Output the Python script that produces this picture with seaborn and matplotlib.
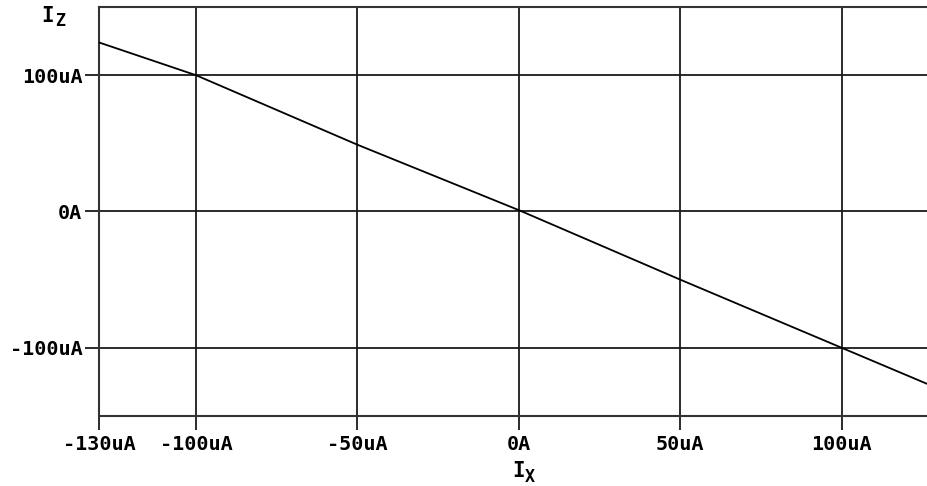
import matplotlib
matplotlib.use("Agg")
import matplotlib.pyplot as plt
import seaborn as sns
import pandas as pd

# Data (uA)
ix_values = [-130, -100, -50, 0, 50, 100, 126.7]
iz_values = [124, 100, 49, 1, -50, -100, -126.7]
x_ticks = [-130, -100, -50, 0, 50, 100]
x_tick_labels = ["-130uA", "-100uA", "-50uA", "0A", "50uA", "100uA"]
y_ticks = [-100, 0, 100]
y_tick_labels = ["-100uA", "0A", "100uA"]

sns.set_style("white")
plt.rcParams['font.family'] = ['DejaVu Sans Mono', 'DejaVu Sans']
plt.rcParams['text.color'] = 'black'

df = pd.DataFrame({"Ix": ix_values, "Iz": iz_values})

fig = plt.figure(figsize=(9.28, 4.86), dpi=100)
ax = fig.add_axes([99/928, 1 - 416/486, 1 - 99/928, (416 - 7)/486])

sns.lineplot(data=df, x="Ix", y="Iz", ax=ax, color="black", linewidth=1.3, zorder=3)

ax.set_xlim(-130, 126.7)
ax.set_ylim(-150, 150)
ax.set_xticks(x_ticks)
ax.set_xticklabels(x_tick_labels)
ax.set_yticks(y_ticks)
ax.set_yticklabels(y_tick_labels)
ax.set_xlabel("")
ax.set_ylabel("")

# grid lines (skip the one at the left edge, which coincides with the spine)
for xv in x_ticks[1:]:
    ax.axvline(xv, color="#1a1a1a", linewidth=1.3, zorder=1)
for yv in y_ticks:
    ax.axhline(yv, color="#1a1a1a", linewidth=1.3, zorder=1)

for side in ["left", "bottom", "top"]:
    ax.spines[side].set_visible(True)
    ax.spines[side].set_color("#333333")
    ax.spines[side].set_linewidth(1.5)
ax.spines["right"].set_visible(False)

ax.tick_params(axis="both", which="major", direction="out", length=10, width=1.3,
               color="#1a1a1a", labelsize=14.5, labelcolor="black",
               bottom=True, left=True, top=False, right=False)
ax.tick_params(axis="y", pad=2)
ax.tick_params(axis="x", pad=4)
for lab in ax.get_xticklabels() + ax.get_yticklabels():
    lab.set_fontweight("bold")

# axis titles: I with subscript
fig.text(512/928, 1 - 471/486, "I", fontsize=15, fontweight="bold", ha="left", va="center")
fig.text(525/928, 1 - 477/486, "X", fontsize=12, fontweight="bold", ha="left", va="center")
fig.text(41/928, 1 - 16/486, "I", fontsize=15, fontweight="bold", ha="left", va="center")
fig.text(55/928, 1 - 21/486, "Z", fontsize=12, fontweight="bold", ha="left", va="center")

fig.savefig("out.png", dpi=100)
